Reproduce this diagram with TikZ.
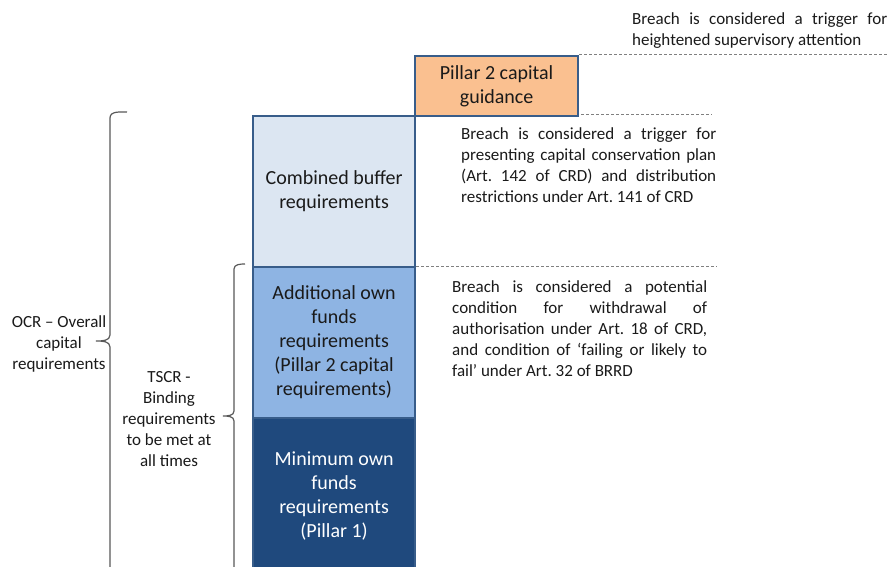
\documentclass[tikz,border=0pt]{standalone}
\usepackage{fontspec}
\setmainfont{Carlito}
\usetikzlibrary{positioning}
\definecolor{guidefill}{HTML}{FAC090}
\definecolor{cbrfill}{HTML}{DCE6F2}
\definecolor{addlfill}{HTML}{8EB4E3}
\definecolor{minfill}{HTML}{1F497D}
\definecolor{boxline}{HTML}{385D8A}
\definecolor{textdark}{HTML}{1A1A1A}
\hyphenpenalty=10000
\exhyphenpenalty=10000
\frenchspacing

\begin{document}
\begin{tikzpicture}[x=1pt,y=1pt,
    capbox/.style={draw=boxline, line width=2.2pt, minimum width=162pt, align=center,
        inner sep=0pt, anchor=north west, text=textdark, font=\fontsize{20}{24}\selectfont},
    note/.style={text width=255pt, align=justify, inner sep=0pt, anchor=north west,
        text=textdark, font=\fontsize{17}{21}\selectfont},
    sidelabel/.style={align=center, inner sep=0pt, anchor=north, text=textdark,
        font=\fontsize{17}{21}\selectfont},
    guideline/.style={draw=gray, line width=1pt, dash pattern=on 3pt off 2pt},
    bracket/.style={draw=black!65, line width=1.2pt}]
    \fill[white] (0,0) rectangle (891,-567);
    \useasboundingbox (0,0) rectangle (891,-567);

    % Dashed trigger lines
    \coordinate (p2gend) at (889,-55);
    \coordinate (cbrend) at (712,-115);
    \coordinate (addlend) at (717,-266);

    % Stacked capital blocks
    \node[capbox, fill=minfill, text=white, minimum height=156pt] (minreq) at (252,-417)
        {Minimum own\\funds\\requirements\\(Pillar 1)};
    \node[capbox, fill=addlfill, minimum height=151pt] (addl) at (252,-266)
        {Additional own\\funds\\requirements\\(Pillar 2 capital\\requirements)};
    \node[capbox, fill=cbrfill, minimum height=151pt] (cbr) at (252,-115)
        {Combined buffer\\requirements};
    \draw[guideline] (addl.north east) -- (addlend);
    \draw[guideline] (cbr.north east) -- (cbrend);
    \node[capbox, fill=guidefill, minimum width=163pt, minimum height=60pt] (p2g) at (414,-55)
        {Pillar 2 capital\\guidance};
    \draw[guideline] (p2g.north east) -- (p2gend);

    % Notes on the right
    \node[note] (notep2g) at (632,-12)
        {Breach is considered a trigger for heightened supervisory attention};
    \node[note] (notecbr) at (461,-127)
        {Breach is considered a trigger for presenting capital conservation plan (Art. 142 of CRD) and distribution restrictions under Art. 141 of CRD};
    \node[note] (noteaddl) at (452,-280)
        {Breach is considered a potential condition for withdrawal of authorisation under Art. 18 of CRD, and condition of ‘failing or likely to fail’ under Art. 32 of BRRD};

    % Brackets on the left
    \draw[bracket] (127,-112) to[out=180,in=90] (110,-118) -- (110,-335)
        to[out=270,in=0] (96,-341) to[out=0,in=90] (110,-347) -- (110,-575);
    \node[sidelabel] (ocr) at (59,-315) {OCR – Overall\\capital\\requirements};
    \draw[bracket] (245,-264) to[out=180,in=90] (234,-269) -- (234,-411)
        to[out=270,in=0] (223,-416) to[out=0,in=90] (234,-421) -- (234,-575);
    \node[sidelabel] (tscr) at (169,-371) {TSCR -\\Binding\\requirements\\to be met at\\all times};
\end{tikzpicture}
\end{document}
